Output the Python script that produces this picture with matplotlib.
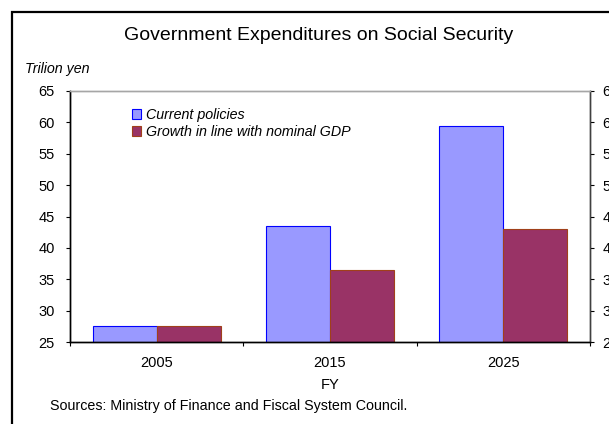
import matplotlib
matplotlib.use("Agg")
import matplotlib.pyplot as plt
import numpy as np
from matplotlib.patches import Rectangle

plt.rcParams['font.family'] = ['Liberation Sans', 'DejaVu Sans']

years = ['2005', '2015', '2025']
current_policies = [27.5, 43.5, 59.5]
nominal_gdp_growth = [27.5, 36.5, 43.0]
series_labels = ['Current policies', 'Growth in line with nominal GDP']
y_ticks = [25, 30, 35, 40, 45, 50, 55, 60, 65]

fig = plt.figure(figsize=(6.09, 4.24), dpi=100)

# outer chart frame (right and bottom edges fall outside the picture)
fig.patches.append(Rectangle((12 / 609, -0.05), 1.2, 1 - 12 / 424 + 0.05,
                             transform=fig.transFigure, fill=False,
                             edgecolor='black', linewidth=1.6))

ax = fig.add_axes([70 / 609, 82 / 424, 520 / 609, 251 / 424])

x = np.arange(len(years))
w = 0.37
ax.bar(x - w / 2, current_policies, w, facecolor='#9999FF',
       edgecolor='#0000FF', linewidth=0.8, label=series_labels[0])
ax.bar(x + w / 2, nominal_gdp_growth, w, facecolor='#993366',
       edgecolor='#A0401A', linewidth=0.8, label=series_labels[1])

ax.set_ylim(25, 65)
ax.set_xlim(-0.5, 2.5)
ax.set_yticks(y_ticks)
ax.tick_params(axis='y', labelsize=10.5, length=3, width=0.8,
               direction='out', pad=8)

# right-hand axis repeats the scale
ax2 = ax.twinx()
ax2.set_ylim(25, 65)
ax2.set_yticks(y_ticks)
ax2.tick_params(axis='y', labelsize=10.5, length=3, width=0.8,
                direction='out', pad=6)

ax.set_xticks([-0.5, 0.5, 1.5, 2.5])
ax.set_xticklabels([])
ax.set_xticks(x, minor=True)
ax.set_xticklabels(years, minor=True)
ax.tick_params(axis='x', which='major', length=3, width=0.8)
ax.tick_params(axis='x', which='minor', length=0, labelsize=10.5, pad=10)

for a in (ax, ax2):
    a.spines['left'].set_color('black')
    a.spines['bottom'].set_color('black')
    a.spines['top'].set_color('#A6A6A6')
    a.spines['right'].set_color('#404040')
    for s in a.spines.values():
        s.set_linewidth(1.0)

ax.set_xlabel('FY', fontsize=10.5, labelpad=6)

fig.text(318.5 / 609, 1 - 36 / 424, 'Government Expenditures on Social Security',
         ha='center', va='center', fontsize=14)
fig.text(25 / 609, 1 - 69 / 424, 'Trilion yen', ha='left', va='center',
         fontsize=10.3, style='italic')
fig.text(50 / 609, 1 - 406 / 424,
         'Sources: Ministry of Finance and Fiscal System Council.',
         ha='left', va='center', fontsize=10.3)

leg = ax.legend(loc='upper left', bbox_to_anchor=(132 / 609, 1 - 108 / 424),
                bbox_transform=fig.transFigure, frameon=False,
                prop={'size': 10.3, 'style': 'italic'}, handlelength=0.65,
                handleheight=0.65, handletextpad=0.35, labelspacing=0.2,
                borderpad=0, borderaxespad=0)

fig.savefig('out.png', dpi=100)
